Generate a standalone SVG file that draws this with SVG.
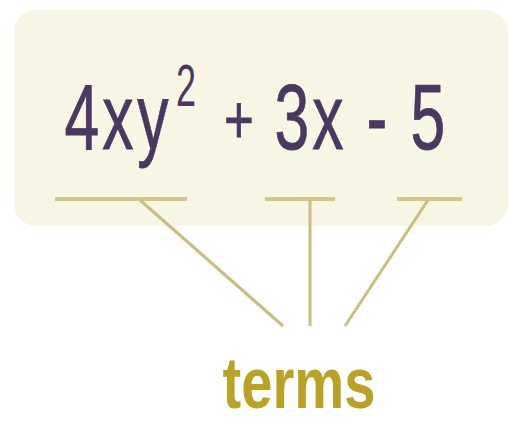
<svg xmlns="http://www.w3.org/2000/svg" width="510" height="425" viewBox="0 0 510 425">
<style>
.eq{font-family:"Liberation Sans",Arial,sans-serif;font-size:92px;fill:#4a3862;text-anchor:middle;stroke:#4a3862;stroke-width:0.8}
.sup{font-family:"Liberation Sans",Arial,sans-serif;font-size:60px;fill:#4a3862;text-anchor:middle}
.ul{stroke:#d2c68a;stroke-width:4;fill:none}
.cn{stroke:#c9bd82;stroke-width:3;fill:none}
.lbl{font-family:"Liberation Sans",Arial,sans-serif;font-size:72px;font-weight:bold;fill:#b9a226;text-anchor:middle}
</style>
<rect width="510" height="425" fill="#ffffff"/>
<g id="expression">
<rect x="14" y="10" width="494" height="216" rx="22" fill="#f7f6e4"/>
<text class="eq" transform="translate(82,149) scale(0.68,1)">4</text>
<text class="eq" transform="translate(118,149) scale(0.68,1)">x</text>
<text class="eq" transform="translate(153,149) scale(0.68,1)">y</text>
<text class="sup" transform="translate(186,106) scale(0.6,1)">2</text>
<text class="eq" style="font-size:68px" transform="translate(239,143) scale(0.75,1)">+</text>
<text class="eq" transform="translate(292,149) scale(0.68,1)">3</text>
<text class="eq" transform="translate(328,149) scale(0.68,1)">x</text>
<text class="eq" transform="translate(377,149) scale(0.68,1)">-</text>
<text class="eq" transform="translate(428,149) scale(0.68,1)">5</text>
</g>
<g id="underlines">
<line class="ul" x1="55" y1="199" x2="187" y2="199"/>
<line class="ul" x1="265" y1="199" x2="335" y2="199"/>
<line class="ul" x1="397" y1="199" x2="462" y2="199"/>
</g>
<g id="connectors">
<line class="cn" x1="140" y1="200" x2="283" y2="326"/>
<line class="cn" x1="310" y1="200" x2="310" y2="326"/>
<line class="cn" x1="428" y1="200" x2="345" y2="326"/>
</g>
<g id="terms">
<text class="lbl" transform="translate(299,408) scale(0.78,1)">terms</text>
</g>
</svg>
